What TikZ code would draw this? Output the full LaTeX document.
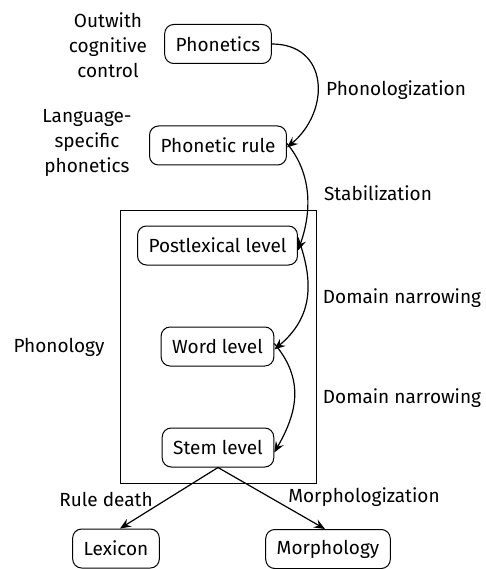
\documentclass[tikz,border=0pt]{standalone}
\usepackage{fontspec}
\setmainfont{Fira Sans}
\usetikzlibrary{arrows.meta}
\begin{document}
\begin{tikzpicture}[x=1pt,y=-1pt,
  every node/.style={font=\fontsize{19}{25}\selectfont},
  box/.style={draw, rounded corners=9pt, line width=1pt, minimum height=39pt, inner xsep=11pt},
  lbl/.style={align=center, inner sep=0pt},
  arr/.style={-{Stealth[length=11pt,width=9pt,inset=4pt]}, line width=1.2pt}]
\useasboundingbox (0,0) rectangle (486,569);
\node[draw, line width=1pt, minimum width=196pt, minimum height=273pt] (frame) at (218,346.5) {};
\node[box] (ph) at (218,44) {Phonetics};
\node[box] (pr) at (218,145.5) {Phonetic rule};
\node[box] (pl) at (217.5,245.5) {Postlexical level};
\node[box] (wl) at (217.5,346.5) {Word level};
\node[box] (sl) at (218,447.5) {Stem level};
\node[box] (lx) at (116,548.5) {Lexicon};
\node[box] (mo) at (328,549) {Morphology};
\node[lbl] (t1) at (108,45) {Outwith\\cognitive\\control};
\node[lbl] (t2) at (87,143) {Language-\\specific\\phonetics};
\node[lbl] (t3) at (396,90) {Phonologization};
\node[lbl] (t4) at (378,193) {Stabilization};
\node[lbl] (t5) at (402,298) {Domain narrowing};
\node[lbl] (t6) at (402,398) {Domain narrowing};
\node[lbl] (t7) at (59,347) {Phonology};
\node[lbl] (t8) at (106,499) {Rule death};
\node[lbl] (t9) at (364,497) {Morphologization};
\draw[arr] (ph.east) to[out=0,in=40,looseness=1.4] ([yshift=-2pt]pr.east);
\draw[arr] ([yshift=2pt]pr.east) to[out=-50,in=70,looseness=0.95] ([yshift=-5pt]pl.east);
\draw[arr] ([yshift=8pt]pl.east) to[out=-70,in=40,looseness=1.1] ([yshift=-3pt]wl.east);
\draw[arr] ([yshift=3pt]wl.east) to[out=-50,in=60,looseness=1.1] ([yshift=-5pt]sl.east);
\draw[arr] (sl.south) -- ([xshift=4pt]lx.north);
\draw[arr] (sl.south) -- ([xshift=-3pt]mo.north);
\end{tikzpicture}
\end{document}
